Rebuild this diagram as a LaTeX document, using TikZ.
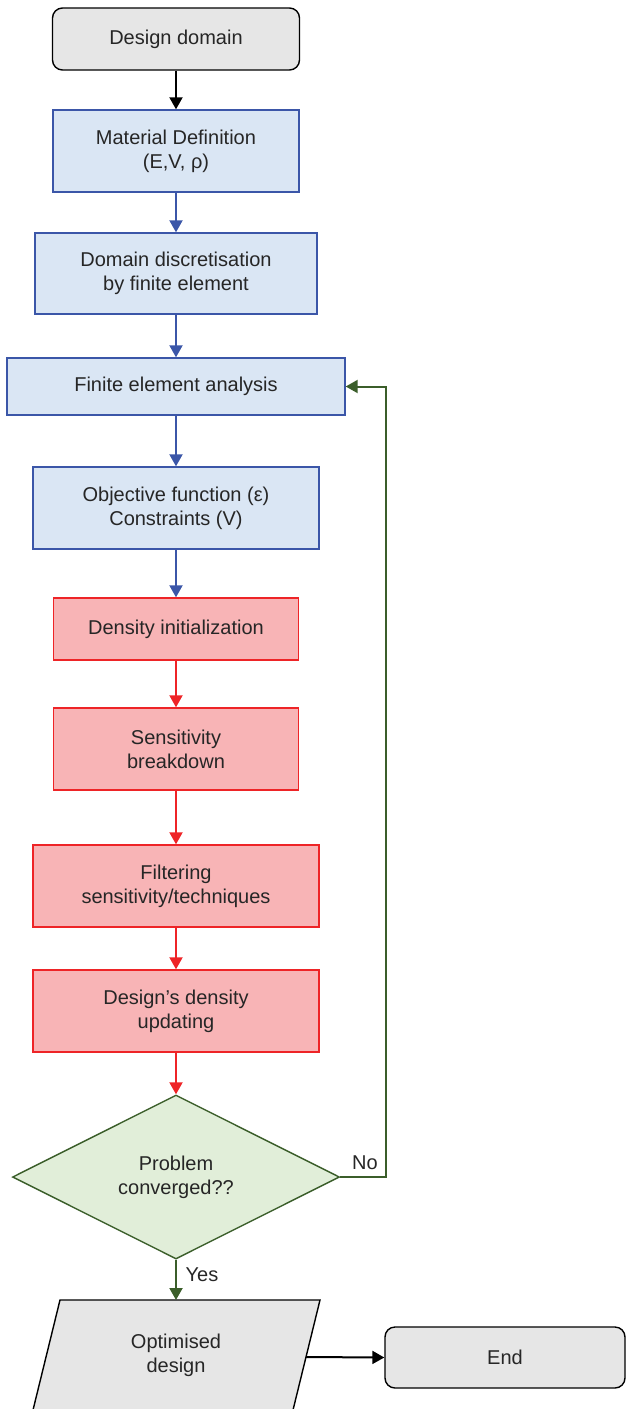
\documentclass[tikz,border=0pt]{standalone}
\usepackage{fontspec}
\setmainfont{Liberation Sans}
\usetikzlibrary{arrows.meta,shapes.geometric}
\definecolor{bfill}{HTML}{DAE6F4}
\definecolor{bdraw}{HTML}{3B56A8}
\definecolor{rfill}{HTML}{F8B4B6}
\definecolor{rdraw}{HTML}{EE2427}
\definecolor{gfill}{HTML}{E1EED9}
\definecolor{gdraw}{HTML}{3B5E2A}
\definecolor{kfill}{HTML}{E6E6E6}
\definecolor{txt}{HTML}{262626}
\begin{document}
\begin{tikzpicture}[x=1pt,y=-1pt,
  base/.style={inner sep=0pt, align=center, text=txt, font=\fontsize{20}{24}\selectfont, line width=1.4pt},
  greybox/.style={base, rectangle, rounded corners=10pt, draw=black, fill=kfill},
  bluebox/.style={base, rectangle, draw=bdraw, fill=bfill},
  redbox/.style={base, rectangle, draw=rdraw, fill=rfill},
  decision/.style={base, diamond, draw=gdraw, fill=gfill},
  lbl/.style={inner sep=0pt, text=txt, font=\fontsize{20}{24}\selectfont},
  conn/.style={line width=2pt, -{Triangle[width=13pt,length=12pt]}},
  kconn/.style={conn, draw=black},
  bconn/.style={conn, draw=bdraw, -{Triangle[width=13pt,length=12pt,color=bdraw]}},
  rconn/.style={conn, draw=rdraw, -{Triangle[width=13pt,length=12pt,color=rdraw]}},
  gconn/.style={conn, draw=gdraw, -{Triangle[width=13pt,length=12pt,color=gdraw]}}]
\useasboundingbox (0,0) rectangle (626,1409);
\clip (0,0) rectangle (626,1409);

\node[greybox, minimum width=247pt, minimum height=62pt] (dd) at (176,39) {Design domain};
\node[bluebox, minimum width=246pt, minimum height=82pt] (mat) at (176,151) {Material Definition\\(E,V, ρ)};
\node[bluebox, minimum width=282pt, minimum height=81pt] (disc) at (176,273.5) {Domain discretisation\\by finite element};
\node[bluebox, minimum width=338pt, minimum height=57pt] (fea) at (176,386.5) {Finite element analysis};
\node[bluebox, minimum width=286pt, minimum height=82pt] (obj) at (176,508) {Objective function (ε)\\Constraints (V)};
\node[redbox, minimum width=245pt, minimum height=62pt] (dinit) at (176,629) {Density initialization};
\node[redbox, minimum width=245pt, minimum height=82pt] (sens) at (176,749) {Sensitivity\\breakdown};
\node[redbox, minimum width=286pt, minimum height=82pt] (filt) at (176,886) {Filtering\\sensitivity/techniques};
\node[redbox, minimum width=286pt, minimum height=82pt] (upd) at (176,1011) {Design’s density\\updating};
\node[decision, minimum width=327pt, minimum height=164pt] (dia) at (176,1177) {Problem\\converged??};

% parallelogram (output)
\draw[line width=1.4pt, draw=black, fill=kfill] (60,1300) -- (320,1300) -- (293,1410) -- (33,1410) -- cycle;
\node[base] (opt) at (176,1355) {Optimised\\design};
\coordinate (optTop) at (176,1300);
\coordinate (optRight) at (306,1357);

\node[greybox, minimum width=240pt, minimum height=61pt] (endn) at (505,1357.5) {End};

% connectors
\draw[kconn] (dd.south) -- (mat.north);
\draw[bconn] (mat.south) -- (disc.north);
\draw[bconn] (disc.south) -- (fea.north);
\draw[bconn] (fea.south) -- (obj.north);
\draw[bconn] (obj.south) -- (dinit.north);
\draw[rconn] (dinit.south) -- (sens.north);
\draw[rconn] (sens.south) -- (filt.north);
\draw[rconn] (filt.south) -- (upd.north);
\draw[rconn] (upd.south) -- (dia.north);
\coordinate (loop) at (386,1177);
\draw[gconn] (dia.east) -- (loop) |- (fea.east);
\node[lbl] (no) at (365,1163) {No};
\draw[gconn] (dia.south) -- (optTop);
\node[lbl] (yes) at (202,1275) {Yes};
\draw[kconn] (optRight) -- (endn.west);
\end{tikzpicture}
\end{document}
